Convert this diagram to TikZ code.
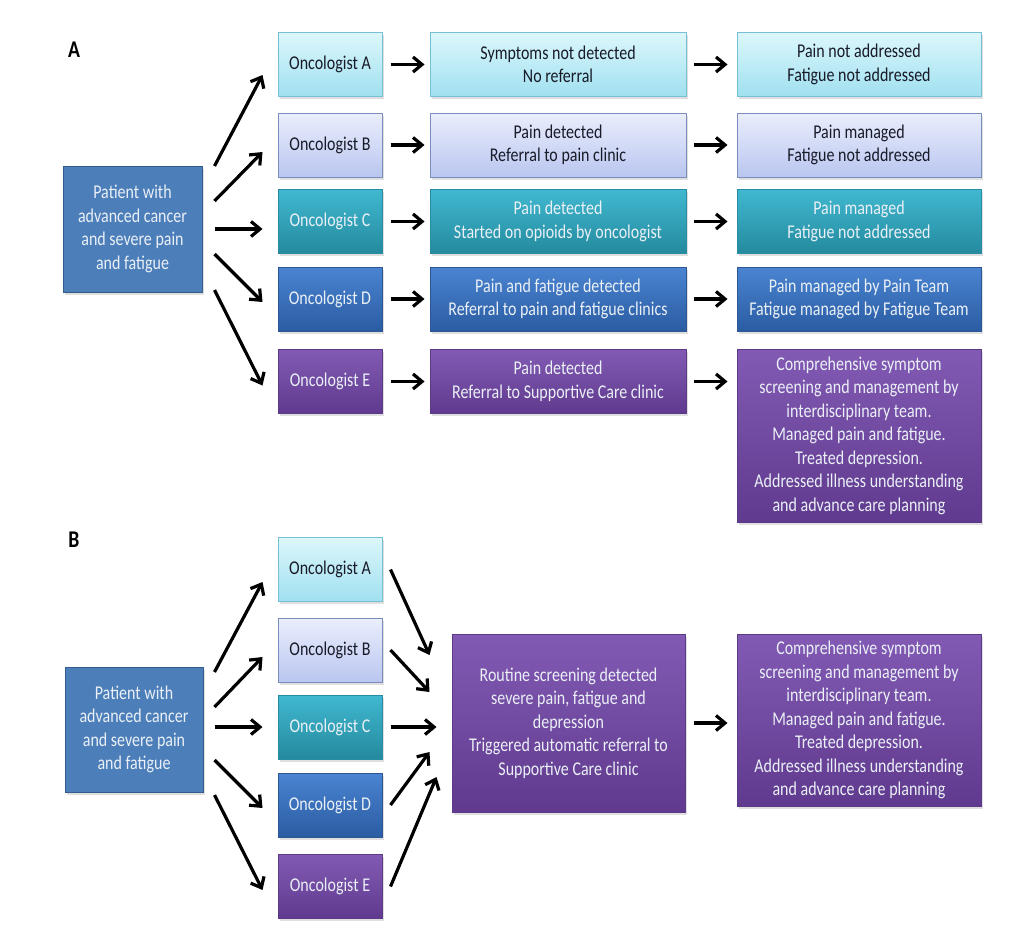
\documentclass[tikz,border=0pt]{standalone}
\usepackage{fontspec}
\setmainfont{Carlito}[FakeStretch=0.82]
\usetikzlibrary{positioning, arrows.meta, calc, shadows}
\definecolor{myCyanTop}{RGB}{220,247,251}
\definecolor{myCyanBot}{RGB}{160,224,240}
\definecolor{myCyanLine}{RGB}{118,192,214}
\definecolor{myLavTop}{RGB}{234,238,252}
\definecolor{myLavBot}{RGB}{186,198,240}
\definecolor{myLavLine}{RGB}{122,142,190}
\definecolor{myTealTop}{RGB}{64,184,208}
\definecolor{myTealBot}{RGB}{36,138,158}
\definecolor{myTealLine}{RGB}{40,140,165}
\definecolor{myBlueTop}{RGB}{74,132,210}
\definecolor{myBlueBot}{RGB}{42,92,162}
\definecolor{myBlueLine}{RGB}{44,86,148}
\definecolor{myPurpTop}{RGB}{130,90,180}
\definecolor{myPurpBot}{RGB}{96,58,142}
\definecolor{myPurpLine}{RGB}{92,58,136}
\definecolor{myPatient}{RGB}{76,126,186}
\definecolor{myPatLine}{RGB}{52,92,142}
\definecolor{myDark}{RGB}{24,26,40}
\definecolor{myLight}{RGB}{234,240,246}
\tikzset{
  box/.style={draw, line width=1, inner sep=3, align=center,
    minimum width=104, minimum height=64, font=\fontsize{19.5}{23.5}\selectfont,
    drop shadow={shadow xshift=2pt, shadow yshift=-2.5pt, opacity=0.25}},
  rowa/.style={box, draw=myCyanLine, top color=myCyanTop, bottom color=myCyanBot, text=myDark},
  rowb/.style={box, draw=myLavLine, top color=myLavTop, bottom color=myLavBot, text=myDark},
  rowc/.style={box, draw=myTealLine, top color=myTealTop, bottom color=myTealBot, text=myLight},
  rowd/.style={box, draw=myBlueLine, top color=myBlueTop, bottom color=myBlueBot, text=myLight},
  rowe/.style={box, draw=myPurpLine, top color=myPurpTop, bottom color=myPurpBot, text=myLight},
  patient/.style={box, draw=myPatLine, fill=myPatient, text=myLight},
  panel/.style={font=\fontsize{24}{26}\selectfont\bfseries, text=black},
  arr/.style={-{Straight Barb[length=9pt,width=15pt]}, line width=3.2}
}
\begin{document}
\begin{tikzpicture}[x=1pt, y=-1pt]
\useasboundingbox (0,0) rectangle (1024,950);
% A
\node [panel] (labA) at (74,50) {A};
\node [patient, minimum width=139, minimum height=126] (patA) at (132.5,229) {Patient with\\advanced cancer\\and severe pain\\and fatigue};

\node [rowa] (oA1) at (330,64.5) {Oncologist A};
\node [rowb] (oA2) at (330,145) {Oncologist B};
\node [rowc] (oA3) at (330,221.5) {Oncologist C};
\node [rowd] (oA4) at (330,299) {Oncologist D};
\node [rowe] (oA5) at (330,381.5) {Oncologist E};

\node [rowa, minimum width=256] (dA1) at (558,64.5) {Symptoms not detected\\No referral};
\node [rowb, minimum width=256] (dA2) at (558,145) {Pain detected\\Referral to pain clinic};
\node [rowc, minimum width=256] (dA3) at (558,221.5) {Pain detected\\Started on opioids by oncologist};
\node [rowd, minimum width=256] (dA4) at (558,299) {Pain and fatigue detected\\Referral to pain and fatigue clinics};
\node [rowe, minimum width=256] (dA5) at (558,381.5) {Pain detected\\Referral to Supportive Care clinic};

\node [rowa, minimum width=244] (rA1) at (859,64.5) {Pain not addressed\\Fatigue not addressed};
\node [rowb, minimum width=244] (rA2) at (859,145) {Pain managed\\Fatigue not addressed};
\node [rowc, minimum width=244] (rA3) at (859,221.5) {Pain managed\\Fatigue not addressed};
\node [rowd, minimum width=244] (rA4) at (859,299) {Pain managed by Pain Team\\Fatigue managed by Fatigue Team};
\node [rowe, minimum width=244, minimum height=173] (rA5) at (859,435.5) {Comprehensive symptom\\screening and management by\\interdisciplinary team.\\Managed pain and fatigue.\\Treated depression.\\Addressed illness understanding\\and advance care planning};

\draw[arr] ([shift={(12,-63)}]patA.east) -- ([shift={(-15,10.5)}]oA1.west);
\draw[arr] ([shift={(12,-28)}]patA.east) -- ([shift={(-15,7)}]oA2.west);
\draw[arr] ([shift={(12,0)}]patA.east) -- ([shift={(-15,7.5)}]oA3.west);
\draw[arr] ([shift={(12,25)}]patA.east) -- ([shift={(-15,3)}]oA4.west);
\draw[arr] ([shift={(12,61)}]patA.east) -- ([shift={(-15,4)}]oA5.west);

\draw[arr, shorten <=8, shorten >=5] (oA1) -- (dA1);
\draw[arr, shorten <=8, shorten >=5] (oA2) -- (dA2);
\draw[arr, shorten <=8, shorten >=5] (oA3) -- (dA3);
\draw[arr, shorten <=8, shorten >=5] (oA4) -- (dA4);
\draw[arr, shorten <=8, shorten >=5] (oA5) -- (dA5);

\draw[arr, shorten <=7, shorten >=9] (dA1) -- (rA1);
\draw[arr, shorten <=7, shorten >=9] (dA2) -- (rA2);
\draw[arr, shorten <=7, shorten >=9] (dA3) -- (rA3);
\draw[arr, shorten <=7, shorten >=9] (dA4) -- (rA4);
\draw[arr, shorten <=7, shorten >=9] (dA5.east) -- (dA5.east -| rA5.west);

% B
\node [panel] (labB) at (74,540) {B};
\node [patient, minimum width=138, minimum height=125] (patB) at (134,729.5) {Patient with\\advanced cancer\\and severe pain\\and fatigue};

\node [rowa] (oB1) at (330,569.5) {Oncologist A};
\node [rowb] (oB2) at (330,650) {Oncologist B};
\node [rowc] (oB3) at (330,727) {Oncologist C};
\node [rowd] (oB4) at (330,805) {Oncologist D};
\node [rowe] (oB5) at (330,886.5) {Oncologist E};

\node [rowe, minimum width=233, minimum height=178] (scrB) at (568.5,723) {Routine screening detected\\severe pain, fatigue and\\depression\\Triggered automatic referral to\\Supportive Care clinic};
\node [rowe, minimum width=244, minimum height=172] (resB) at (859,720) {Comprehensive symptom\\screening and management by\\interdisciplinary team.\\Managed pain and fatigue.\\Treated depression.\\Addressed illness understanding\\and advance care planning};

\draw[arr] ([shift={(11,-57.5)}]patB.east) -- ([shift={(-15,12.5)}]oB1.west);
\draw[arr] ([shift={(11,-22.5)}]patB.east) -- ([shift={(-15,7)}]oB2.west);
\draw[arr] ([shift={(11,-2.5)}]patB.east) -- ([shift={(-15,0)}]oB3.west);
\draw[arr] ([shift={(11,30.5)}]patB.east) -- ([shift={(-15,3)}]oB4.west);
\draw[arr] ([shift={(11,65.5)}]patB.east) -- ([shift={(-15,3.5)}]oB5.west);

\draw[arr] ([shift={(8,0)}]oB1.east) -- ([shift={(-22,-68)}]scrB.west);
\draw[arr] ([shift={(8,0)}]oB2.east) -- ([shift={(-22,-31)}]scrB.west);
\draw[arr] ([shift={(8,0)}]oB3.east) -- ([shift={(-15,4)}]scrB.west);
\draw[arr] ([shift={(8,0)}]oB4.east) -- ([shift={(-22,29)}]scrB.west);
\draw[arr] ([shift={(8,0)}]oB5.east) -- ([shift={(-15,54)}]scrB.west);

\draw[arr, shorten <=8, shorten >=9] (scrB.east) -- (scrB.east -| resB.west);

\end{tikzpicture}
\end{document}
